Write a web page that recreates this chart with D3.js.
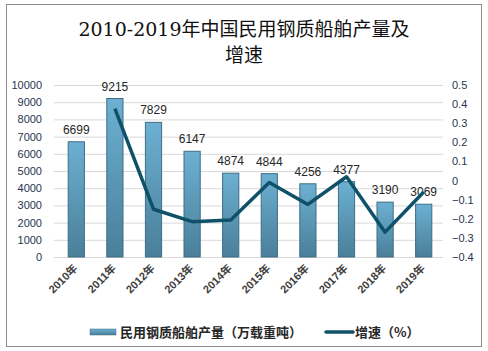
<!DOCTYPE html>
<html lang="zh">
<head>
<meta charset="UTF-8">
<script src="https://cdn.jsdelivr.net/npm/d3@7"></script>
<style>
  html, body { margin: 0; background: #fff; overflow: hidden; }
</style>
</head>
<body>
<svg id="svg" width="488" height="351"></svg>
<script>
const years = ['2010年','2011年','2012年','2013年','2014年','2015年','2016年','2017年','2018年','2019年'];
const output = [6699, 9215, 7829, 6147, 4874, 4844, 4256, 4377, 3190, 3069];
const growth = [null, 0.376, -0.15, -0.215, -0.207, -0.01, -0.125, 0.02, -0.27, -0.06];
const leftTicks = [0,1000,2000,3000,4000,5000,6000,7000,8000,9000,10000];
const rightTicks = [-0.4,-0.3,-0.2,-0.1,0,0.1,0.2,0.3,0.4,0.5];

const svg = d3.select('#svg');
const margin = {top: 85, left: 57, right: 45, bottom: 94};
const width = 488, height = 351;
const innerW = width - margin.left - margin.right;
const innerH = height - margin.top - margin.bottom;

// outer frame
svg.append('rect').attr('x', 6.5).attr('y', 4.5).attr('width', 475).attr('height', 342)
  .attr('fill', '#fff').attr('stroke', '#8c8c8c').attr('stroke-width', 1);

// title
const title = svg.append('text').attr('text-anchor', 'middle')
  .attr('font-family', '"DejaVu Serif", "Noto Sans CJK SC", serif')
  .attr('font-size', 19).attr('fill', '#111');
title.append('tspan').attr('x', 244).attr('y', 36).text('2010-2019年中国民用钢质船舶产量及');
title.append('tspan').attr('x', 244).attr('y', 62).text('增速');

const defs = svg.append('defs');
const grad = defs.append('linearGradient').attr('id', 'barGrad')
  .attr('x1', 0).attr('y1', 0).attr('x2', 0).attr('y2', 1);
grad.append('stop').attr('offset', '0%').attr('stop-color', '#6cb0d2');
grad.append('stop').attr('offset', '100%').attr('stop-color', '#4a7f99');
const gradH = defs.append('linearGradient').attr('id', 'legGrad')
  .attr('x1', 0).attr('y1', 0).attr('x2', 0).attr('y2', 1);
gradH.append('stop').attr('offset', '0%').attr('stop-color', '#6cb0d2');
gradH.append('stop').attr('offset', '100%').attr('stop-color', '#4a7f99');

const g = svg.append('g').attr('transform', `translate(${margin.left},${margin.top})`);

const x = d3.scaleBand().domain(years).range([0, innerW]).paddingInner(0.58).paddingOuter(0.29);
const y = d3.scaleLinear().domain([0, 10000]).range([innerH, 0]);
const y2 = d3.scaleLinear().domain([-0.4, 0.5]).range([innerH, 0]);

// gridlines
g.selectAll('line.grid').data(leftTicks).join('line')
  .attr('class', 'grid')
  .attr('x1', -3).attr('x2', innerW)
  .attr('y1', d => y(d) + 0.5).attr('y2', d => y(d) + 0.5)
  .attr('stroke', '#d9d9d9').attr('stroke-width', 1);

// left axis
const axisFont = '"Liberation Sans", "DejaVu Sans", sans-serif';
const yAxis = g.append('g').attr('transform', 'translate(-12,0)')
  .call(d3.axisLeft(y).tickValues(leftTicks).tickSize(0).tickFormat(d3.format('d')));
yAxis.select('.domain').remove();
yAxis.selectAll('text').attr('font-family', axisFont).attr('font-size', 11).attr('fill', '#1f3550');

// right axis
const y2Axis = g.append('g').attr('transform', `translate(${innerW + 6},0)`)
  .call(d3.axisRight(y2).tickValues(rightTicks).tickSize(0).tickFormat(d3.format('.1f')));
y2Axis.select('.domain').remove();
y2Axis.selectAll('text').attr('font-family', axisFont).attr('font-size', 11).attr('fill', '#1f3550')
  .text(d => d === 0 ? '0' : d3.format('.1f')(d).replace(/^(-?)0\./, '$10.'));

// bars
g.selectAll('rect.bar').data(output).join('rect')
  .attr('class', 'bar')
  .attr('x', (d, i) => x(years[i]))
  .attr('y', d => y(d))
  .attr('width', x.bandwidth())
  .attr('height', d => innerH - y(d))
  .attr('fill', 'url(#barGrad)')
  .attr('stroke', '#3d6e86').attr('stroke-width', 1);

// bar labels
g.selectAll('text.lbl').data(output).join('text')
  .attr('class', 'lbl')
  .attr('x', (d, i) => x(years[i]) + x.bandwidth() / 2)
  .attr('y', d => y(d) - 8)
  .attr('text-anchor', 'middle')
  .attr('font-family', axisFont).attr('font-size', 12).attr('fill', '#262626')
  .text(d => d);

// growth line
const line = d3.line()
  .defined(d => d != null)
  .x((d, i) => x(years[i]) + x.bandwidth() / 2)
  .y(d => y2(d));
g.append('path').datum(growth)
  .attr('fill', 'none').attr('stroke', '#0f5168').attr('stroke-width', 3.5)
  .attr('stroke-linejoin', 'round')
  .attr('d', line);

// x labels
g.selectAll('text.xl').data(years).join('text')
  .attr('class', 'xl')
  .attr('transform', d => `translate(${x(d) + x.bandwidth() / 2 + 2},${innerH + 12}) rotate(-45)`)
  .attr('text-anchor', 'end')
  .attr('font-family', '"Liberation Sans", "Noto Sans CJK SC", sans-serif')
  .attr('font-size', 11).attr('font-weight', 'bold').attr('fill', '#404040')
  .text(d => d);

// legend
const lg = svg.append('g').attr('transform', 'translate(0,332)');
lg.append('rect').attr('x', 90).attr('y', -3).attr('width', 26).attr('height', 6)
  .attr('fill', 'url(#legGrad)').attr('stroke', '#3d6e86').attr('stroke-width', 0.5);
lg.append('text').attr('x', 120).attr('y', 5)
  .attr('font-family', '"Noto Sans CJK SC", sans-serif').attr('font-size', 13).attr('font-weight', 'bold')
  .attr('fill', '#262626').text('民用钢质船舶产量（万载重吨）');
lg.append('line').attr('x1', 326).attr('x2', 353).attr('y1', 0).attr('y2', 0)
  .attr('stroke', '#0f5168').attr('stroke-width', 3.5).attr('stroke-linecap', 'round');
lg.append('text').attr('x', 355).attr('y', 5)
  .attr('font-family', '"Noto Sans CJK SC", sans-serif').attr('font-size', 13).attr('font-weight', 'bold')
  .attr('fill', '#262626').text('增速（%）');
</script>
</body>
</html>
